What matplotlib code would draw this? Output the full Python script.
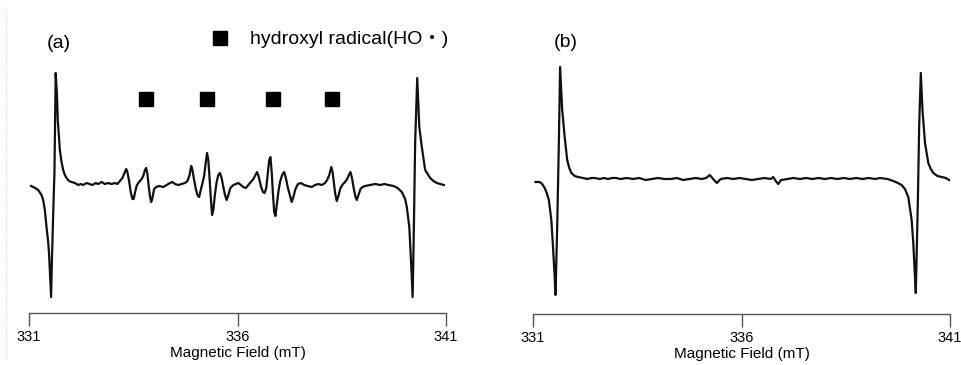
import matplotlib
matplotlib.use("Agg")
import matplotlib.pyplot as plt
import matplotlib.transforms as mtransforms
from matplotlib.lines import Line2D

plt.rcParams['font.family'] = ['Liberation Sans', 'Noto Sans CJK JP', 'DejaVu Sans']

# spectrum (a): field (mT) and signal (arb. units)
field_a = [331.05, 331.15, 331.22, 331.30, 331.34, 331.38, 331.42, 331.46, 331.48, 331.51,
           331.53, 331.55, 331.58, 331.61, 331.64, 331.67, 331.69, 331.72, 331.74, 331.78,
           331.82, 331.86, 331.90, 331.96, 332.02, 332.10, 332.18, 332.24, 332.30, 332.38,
           332.45, 332.52, 332.60, 332.66, 332.74, 332.82, 332.90, 332.98, 333.06, 333.12,
           333.18, 333.24, 333.29, 333.33, 333.36, 333.40, 333.44, 333.48, 333.51, 333.54,
           333.58, 333.62, 333.66, 333.70, 333.74, 333.78, 333.81, 333.84, 333.87, 333.90,
           333.93, 333.96, 334.00, 334.05, 334.12, 334.22, 334.30, 334.38, 334.44, 334.50,
           334.58, 334.66, 334.74, 334.80, 334.85, 334.89, 334.92, 334.96, 335.00, 335.04,
           335.08, 335.12, 335.16, 335.20, 335.24, 335.27, 335.30, 335.33, 335.36, 335.39,
           335.42, 335.46, 335.50, 335.54, 335.58, 335.62, 335.66, 335.70, 335.74, 335.78,
           335.83, 335.90, 335.96, 336.02, 336.08, 336.14, 336.20, 336.26, 336.32, 336.38,
           336.43, 336.47, 336.51, 336.56, 336.61, 336.65, 336.69, 336.72, 336.76, 336.79,
           336.82, 336.85, 336.88, 336.91, 336.94, 336.98, 337.02, 337.07, 337.12, 337.16,
           337.21, 337.26, 337.30, 337.34, 337.39, 337.45, 337.52, 337.60, 337.68, 337.78,
           337.86, 337.94, 338.02, 338.10, 338.15, 338.20, 338.25, 338.28, 338.31, 338.34,
           338.38, 338.42, 338.47, 338.53, 338.58, 338.63, 338.67, 338.71, 338.75, 338.79,
           338.83, 338.86, 338.90, 338.95, 339.00, 339.06, 339.18, 339.30, 339.42, 339.52,
           339.62, 339.74, 339.84, 339.94, 340.02, 340.06, 340.12, 340.16, 340.20, 340.23,
           340.26, 340.31, 340.36, 340.42, 340.50, 340.62, 340.70, 340.78, 340.86, 340.95]
signal_a = [-2, -4, -6, -11, -16, -26, -43, -58, -69, -95,
            -113, -76, -30, 11, 111, 90, 64, 45, 34, 22,
            14, 9, 6, 3, 2, 1, -1, 0, -1, 1,
            0, -1, 1, 0, 2, 0, 1, 0, 1, 0,
            3, 6, 11, 15, 12, 3, -8, -15, -15, -9,
            -2, 1, 3, 5, 8, 14, 16, 10, -2, -12,
            -18, -14, -5, -3, -2, -3, -1, 1, 2, 0,
            -1, 0, 1, 3, 9, 18, 14, 4, -5, -11,
            -13, -6, 1, 8, 22, 31, 24, 6, -14, -31,
            -26, -10, 2, 9, 11, 6, -3, -11, -16, -11,
            -4, -1, 0, 1, -1, -3, -4, -1, 2, 5,
            9, 12, 7, -2, -8, -9, -4, 8, 24, 27,
            12, -10, -28, -32, -22, -8, 2, 9, 12, 6,
            -4, -12, -18, -13, -5, 0, 1, -1, -2, -3,
            -1, 0, -1, 1, 4, 9, 17, 12, 2, -9,
            -17, -12, -4, 0, 2, 5, 9, 12, 5, -5,
            -13, -16, -11, -5, -3, -2, -1, 0, -1, 0,
            -1, -2, -4, -8, -15, -23, -43, -76, -113, -43,
            41, 106, 57, 37, 14, 6, 3, 1, 0, -1]

# spectrum (b)
field_b = [331.06, 331.16, 331.22, 331.28, 331.33, 331.38, 331.44, 331.48, 331.52, 331.54,
           331.58, 331.62, 331.65, 331.70, 331.76, 331.82, 331.87, 331.92, 332.00, 332.08,
           332.20, 332.30, 332.40, 332.48, 332.60, 332.70, 332.80, 332.90, 332.99, 333.10,
           333.25, 333.40, 333.55, 333.70, 333.85, 334.00, 334.15, 334.30, 334.45, 334.60,
           334.75, 334.90, 335.05, 335.15, 335.24, 335.32, 335.41, 335.50, 335.65, 335.80,
           335.95, 336.10, 336.25, 336.40, 336.55, 336.70, 336.76, 336.82, 336.88, 336.95,
           337.10, 337.25, 337.40, 337.55, 337.70, 337.85, 338.00, 338.15, 338.30, 338.45,
           338.60, 338.75, 338.90, 339.05, 339.20, 339.32, 339.50, 339.64, 339.75, 339.84,
           339.92, 340.00, 340.08, 340.12, 340.16, 340.18, 340.23, 340.26, 340.30, 340.34,
           340.40, 340.48, 340.54, 340.60, 340.70, 340.80, 340.90, 340.98]
signal_b = [-3, -3, -5, -9, -14, -21, -41, -68, -98, -116,
            -48, 36, 112, 69, 42, 19, 11, 6, 3, 2,
            1, 0, 1, 1, 0, 1, 0, 1, 1, 0,
            1, 0, 1, -1, 0, 1, 0, 0, 1, -1,
            0, 1, 0, 1, 4, 0, -4, 0, 1, 0,
            1, 0, -1, 0, 1, 0, 2, -2, -5, -1,
            0, 1, 0, 1, 0, 1, 0, 1, 0, 1,
            0, 1, 0, 1, 0, 1, 0, -2, -4, -6,
            -10, -18, -41, -64, -98, -114, -21, 52, 106, 69,
            36, 16, 10, 6, 3, 2, 1, -1]

# hydroxyl radical quartet positions (mT)
ho_lines = [333.81, 335.27, 336.85, 338.27]

xticks = [331, 336, 341]

fig = plt.figure(figsize=(9.61, 3.65), dpi=100)
ax1 = fig.add_axes([29/961, 52/365, 417/961, 293/365])
ax2 = fig.add_axes([533/961, 51/365, 417/961, 294/365])

ax1.plot(field_a, signal_a, color="#111111", lw=1.6, solid_joinstyle="round")
ax2.plot(field_b, signal_b, color="#111111", lw=1.6, solid_joinstyle="round")
ax1.set_ylim(-129, 164)
ax2.set_ylim(-135, 159)

for ax in (ax1, ax2):
    ax.set_xlim(331, 341)
    ax.set_xticks(xticks)
    ax.set_xticklabels([str(t) for t in xticks])
    ax.set_yticks([])
    for s in ("top", "right", "left"):
        ax.spines[s].set_visible(False)
    ax.spines["bottom"].set_color("#555555")
    ax.spines["bottom"].set_linewidth(1.0)
    ax.tick_params(axis="x", direction="out", length=9.5, width=1.0, color="#555555",
                   pad=3, labelsize=10.5)
    ax.set_xlabel("Magnetic Field (mT)", fontsize=11, labelpad=1)
    ax.patch.set_alpha(0)

# square markers over the HO lines
trans = mtransforms.blended_transform_factory(ax1.transData, ax1.transAxes)
ax1.plot(ho_lines, [0.73] * len(ho_lines), "s", color="black", ms=9.5,
         transform=trans, clip_on=False)

ax1.plot([0.458], [0.937], "s", color="black", ms=10.5, transform=ax1.transAxes, clip_on=False)
ax1.text(0.530, 0.935, "hydroxyl radical(HO・)", transform=ax1.transAxes,
         fontsize=14, va="center", ha="left")
ax1.text(0.072, 0.92, "(a)", transform=ax1.transAxes, fontsize=14, va="center", ha="center")
ax2.text(0.079, 0.925, "(b)", transform=ax2.transAxes, fontsize=14, va="center", ha="center")

fig.add_artist(Line2D([6/961, 6/961], [0.02, 0.98], color="#cccccc", lw=0.8, ls=":"))

fig.savefig("out.png", dpi=100)
